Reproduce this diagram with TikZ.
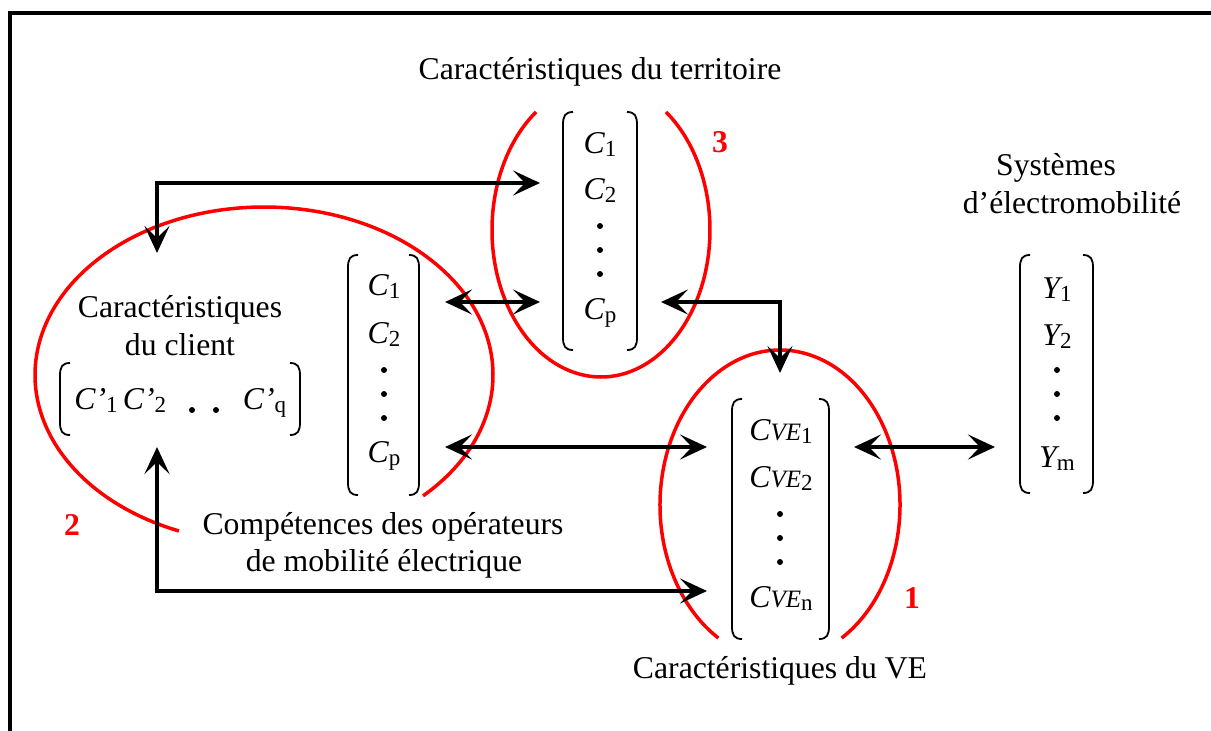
\documentclass[tikz,border=0pt]{standalone}
\usepackage{fontspec}
\setmainfont{Liberation Serif}
\usetikzlibrary{arrows.meta}
\newcommand{\msub}[1]{\raisebox{-3pt}{\fontsize{23}{23}\selectfont\upshape #1}}
\newcommand{\ve}{{\fontsize{25}{25}\selectfont VE}}
\newcommand{\lbrk}[3]{\draw[brk] ({#1+10},#2) .. controls ({#1+2},#2) and (#1,{#2+4}) .. (#1,{#2+13}) -- (#1,{#3-13}) .. controls (#1,{#3-4}) and ({#1+2},#3) .. ({#1+10},#3);}
\newcommand{\rbrk}[3]{\draw[brk] ({#1-10},#2) .. controls ({#1-2},#2) and (#1,{#2+4}) .. (#1,{#2+13}) -- (#1,{#3-13}) .. controls (#1,{#3-4}) and ({#1-2},#3) .. ({#1-10},#3);}
\begin{document}
\begin{tikzpicture}[x=1pt,y=-1pt,
  txt/.style={font=\fontsize{31.7}{38}\selectfont, inner sep=0pt, anchor=base},
  num/.style={txt, text=red, font=\fontsize{31.7}{38}\selectfont\bfseries},
  conn/.style={line width=3.8pt, {Stealth[length=27pt,width=25pt,inset=12pt]}-{Stealth[length=27pt,width=25pt,inset=12pt]}},
  zone/.style={draw=red, line width=3.5pt},
  brk/.style={line width=1.8pt},
  frame/.style={line width=4pt}
]
\useasboundingbox (0,0) rectangle (1211,731);
% frame
\coordinate (fb) at (10,735);
\coordinate (fc) at (10,13);
\coordinate (fr) at (1215,13);
\draw[frame] (fb) -- (fc) -- (fr);

% red zones (partly hidden by text boxes)
\draw[zone] (601,230) ++(126.6:109pt and 147pt) arc[start angle=126.6, end angle=413.4, x radius=109pt, y radius=147pt];
\draw[zone] (264,375) ++(-46:229pt and 168pt) arc[start angle=-46, end angle=248.2, x radius=229pt, y radius=168pt];
\draw[zone] (780,505) ++(-59.1:120pt and 155pt) arc[start angle=-59.1, end angle=239.1, x radius=120pt, y radius=155pt];

% labels
\node[txt] (tTerr) at (600,79) {Caractéristiques du territoire};
\node[txt] (tCliA) at (180,317) {Caractéristiques};
\node[txt] (tCliB) at (180,355) {du client};
\node[txt] (tSysA) at (1056,175) {Systèmes};
\node[txt] (tSysB) at (1072,213) {d’électromobilité};
\node[txt] (tCompA) at (383,534) {Compétences des opérateurs};
\node[txt] (tCompB) at (384,571) {de mobilité électrique};
\node[txt] (tVE) at (780,678) {Caractéristiques du VE};
\node[num] (n2) at (72,535) {2};
\node[num] (n3) at (720,152) {3};
\node[num] (n1) at (912,608) {1};

% matrix 3 (territoire)
\lbrk{563}{112}{350}\rbrk{637}{112}{350}
\node[txt] (m3a) at (600,153) {\itshape C\msub{1}};
\node[txt] (m3b) at (600,199) {\itshape C\msub{2}};
\node[txt] (m3p) at (600,319) {\itshape C\msub{p}};
\foreach \yy in {226,250,274} \fill (600,\yy) circle (3pt);

% matrix 2 (client C)
\lbrk{348}{255}{495}\rbrk{419}{255}{495}
\node[txt] (m2a) at (384,295) {\itshape C\msub{1}};
\node[txt] (m2b) at (384,343) {\itshape C\msub{2}};
\node[txt] (m2p) at (384,462) {\itshape C\msub{p}};
\foreach \yy in {370,394,418} \fill (384,\yy) circle (3pt);

% row matrix C'
\lbrk{60}{363}{435}\rbrk{300}{363}{435}
\node[txt] (cq1) at (96,409) {\itshape C’\msub{1}};
\node[txt] (cq2) at (144.5,409) {\itshape C’\msub{2}};
\node[txt] (cqq) at (264.5,409) {\itshape C’\msub{q}};
\foreach \xx in {192,216} \fill (\xx,410) circle (3pt);

% matrix 1 (VE)
\lbrk{732}{399}{639}\rbrk{829}{399}{639}
\node[txt] (m1a) at (781,440) {\itshape C\ve\msub{1}};
\node[txt] (m1b) at (781,487) {\itshape C\ve\msub{2}};
\node[txt] (m1n) at (781,607) {\itshape C\ve\msub{n}};
\foreach \yy in {514,538,562} \fill (780,\yy) circle (3pt);

% matrix Y
\lbrk{1020}{255}{493}\rbrk{1093}{255}{493}
\node[txt] (y1) at (1057,298) {\itshape Y\msub{1}};
\node[txt] (y2) at (1057,345) {\itshape Y\msub{2}};
\node[txt] (ym) at (1057,467) {\itshape Y\msub{m}};
\foreach \yy in {370,394,418} \fill (1057,\yy) circle (3pt);

% connectors
\coordinate (a1s) at (157,253); \coordinate (a1c) at (157,183); \coordinate (a1e) at (540,183);
\coordinate (a2s) at (445,302); \coordinate (a2e) at (540,302);
\coordinate (a3s) at (661,302); \coordinate (a3c) at (780,302); \coordinate (a3e) at (780,373);
\coordinate (a4s) at (445,447); \coordinate (a4e) at (707,447);
\coordinate (a5s) at (854,447); \coordinate (a5e) at (995,447);
\coordinate (a6s) at (157,447); \coordinate (a6c) at (157,591); \coordinate (a6e) at (707,591);
\draw[conn] (a1s) -- (a1c) -- (a1e);
\draw[conn] (a2s) -- (a2e);
\draw[conn] (a3s) -- (a3c) -- (a3e);
\draw[conn] (a4s) -- (a4e);
\draw[conn] (a5s) -- (a5e);
\draw[conn] (a6s) -- (a6c) -- (a6e);
\end{tikzpicture}
\end{document}
